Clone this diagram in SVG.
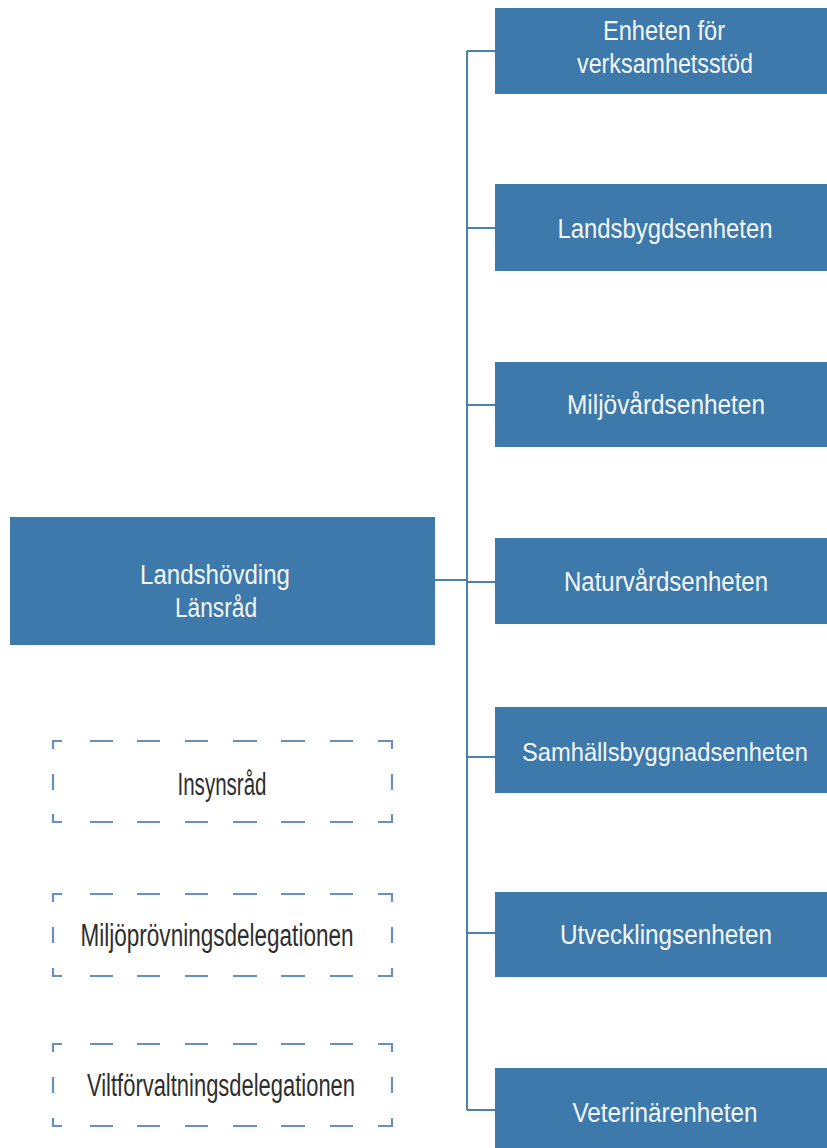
<svg xmlns="http://www.w3.org/2000/svg" width="827" height="1148" viewBox="0 0 827 1148">
<style>
.box{fill:#3d79aa}
.bt{font-family:"Liberation Sans",Arial,sans-serif;font-size:27px;fill:#f3f6f9;text-anchor:middle}
.dt{font-family:"Liberation Sans Narrow","Liberation Sans",Arial,sans-serif;font-size:31px;fill:#2e2e2e;text-anchor:middle}
.conn{stroke:#4b7fae;stroke-width:2;fill:none}
.dash{stroke:#6790be;stroke-width:2.2;fill:none}
</style>
<rect width="827" height="1148" fill="#ffffff"/>
<g id="connectors">
<path class="conn" d="M467,51 V1110"/>
<path class="conn" d="M467,51 H496 M467,228 H496 M467,405 H496 M467,582 H496 M467,757 H496 M467,933 H496 M467,1110 H496"/>
<path class="conn" d="M435,580 H467"/>
</g>
<g id="n-enheten">
<rect class="box" x="495" y="8" width="332" height="86"/>
<text class="bt" x="664" y="40" textLength="122" lengthAdjust="spacingAndGlyphs">Enheten för</text>
<text class="bt" x="665" y="73" textLength="176" lengthAdjust="spacingAndGlyphs">verksamhetsstöd</text>
</g>
<g id="n-landsbygd">
<rect class="box" x="495" y="184" width="332" height="87"/>
<text class="bt" x="665" y="238" textLength="215" lengthAdjust="spacingAndGlyphs">Landsbygdsenheten</text>
</g>
<g id="n-miljovard">
<rect class="box" x="495" y="362" width="332" height="85"/>
<text class="bt" x="666" y="414" textLength="198" lengthAdjust="spacingAndGlyphs">Miljövårdsenheten</text>
</g>
<g id="n-naturvard">
<rect class="box" x="495" y="538" width="332" height="86"/>
<text class="bt" x="666" y="591" textLength="204" lengthAdjust="spacingAndGlyphs">Naturvårdsenheten</text>
</g>
<g id="n-samhall">
<rect class="box" x="495" y="707" width="332" height="86"/>
<text class="bt" x="665" y="761" style="font-size:25px" textLength="286" lengthAdjust="spacingAndGlyphs">Samhällsbyggnadsenheten</text>
</g>
<g id="n-utveckling">
<rect class="box" x="495" y="892" width="332" height="85"/>
<text class="bt" x="666" y="944" textLength="212" lengthAdjust="spacingAndGlyphs">Utvecklingsenheten</text>
</g>
<g id="n-veterinar">
<rect class="box" x="495" y="1068" width="332" height="80"/>
<text class="bt" x="665" y="1122" textLength="185" lengthAdjust="spacingAndGlyphs">Veterinärenheten</text>
</g>
<g id="n-landshovding">
<rect class="box" x="10" y="517" width="425" height="128"/>
<text class="bt" x="215" y="584" textLength="150" lengthAdjust="spacingAndGlyphs">Landshövding</text>
<text class="bt" x="216" y="617" textLength="82" lengthAdjust="spacingAndGlyphs">Länsråd</text>
</g>
<g id="n-insynsrad">
<path class="dash" d="M53,749 V741 H62 M90,741 H113 M137,741 H160 M185,741 H208 M233,741 H257 M281,741 H305 M330,741 H353 M378,741 H392 V749 M53,774 V790 M392,774 V790 M53,814 V822 H62 M90,822 H113 M137,822 H160 M185,822 H208 M233,822 H257 M281,822 H305 M330,822 H353 M378,822 H392 V814"/>
<text class="dt" x="222" y="795" textLength="89" lengthAdjust="spacingAndGlyphs">Insynsråd</text>
</g>
<g id="n-miljoprovning">
<path class="dash" d="M53,902 V894 H62 M90,894 H113 M137,894 H160 M185,894 H208 M233,894 H257 M281,894 H305 M330,894 H353 M378,894 H392 V902 M53,927 V943 M392,927 V943 M53,968 V976 H62 M90,976 H113 M137,976 H160 M185,976 H208 M233,976 H257 M281,976 H305 M330,976 H353 M378,976 H392 V968"/>
<text class="dt" x="217" y="946" textLength="273" lengthAdjust="spacingAndGlyphs">Miljöprövningsdelegationen</text>
</g>
<g id="n-viltforvaltning">
<path class="dash" d="M53,1052 V1044 H62 M90,1044 H113 M137,1044 H160 M185,1044 H208 M233,1044 H257 M281,1044 H305 M330,1044 H353 M378,1044 H392 V1052 M53,1077 V1093 M392,1077 V1093 M53,1118 V1126 H62 M90,1126 H113 M137,1126 H160 M185,1126 H208 M233,1126 H257 M281,1126 H305 M330,1126 H353 M378,1126 H392 V1118"/>
<text class="dt" x="221" y="1096" textLength="268" lengthAdjust="spacingAndGlyphs">Viltförvaltningsdelegationen</text>
</g>
</svg>
